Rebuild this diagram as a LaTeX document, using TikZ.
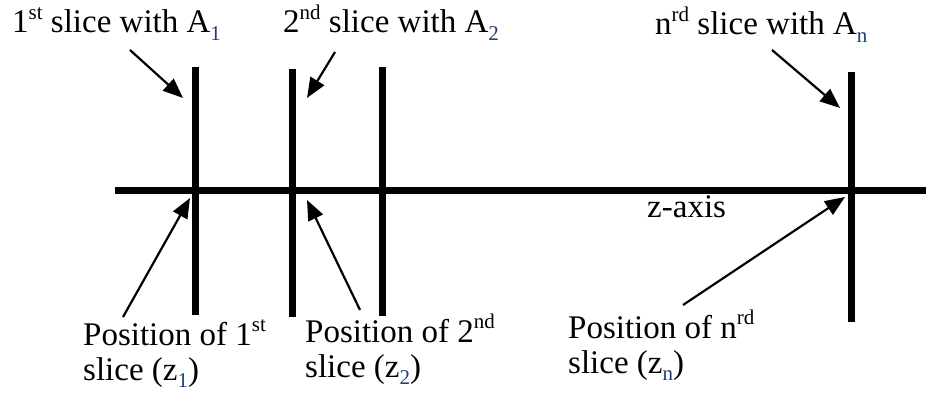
\documentclass[tikz,border=0pt]{standalone}
\usepackage{fontspec}
\setmainfont{Liberation Serif}
\usetikzlibrary{arrows.meta}
\definecolor{subcol}{RGB}{31,62,112}
\newcommand{\mysup}[1]{\raisebox{0.42em}{\fontsize{21}{21}\selectfont #1}}
\newcommand{\mysub}[1]{\raisebox{-0.22em}{\fontsize{21}{21}\selectfont\color{subcol}#1}}
\begin{document}
\begin{tikzpicture}[x=1pt,y=-1pt,
  lbl/.style={inner sep=0pt,anchor=base west,font=\fontsize{33}{35}\selectfont,align=left},
  bar/.style={line width=7pt},
  ptr/.style={line width=2.2pt,-{Triangle[length=20pt,width=16pt]}}]
\useasboundingbox (0,0) rectangle (926,393);
% axis
\coordinate (axL) at (115,190);
\coordinate (axR) at (926,190);
\draw[bar] (axL) -- (axR);
% slices
\coordinate (s1t) at (195,67); \coordinate (s1b) at (195,315);
\coordinate (s2t) at (292,69); \coordinate (s2b) at (292,317);
\coordinate (s3t) at (382,67); \coordinate (s3b) at (382,316);
\coordinate (snt) at (851,72); \coordinate (snb) at (851,322);
\draw[bar] (s1t) -- (s1b);
\draw[bar] (s2t) -- (s2b);
\draw[bar] (s3t) -- (s3b);
\draw[bar] (snt) -- (snb);
% labels
\node[lbl] (t1) at (12,33) {1\mysup{st} slice with A\mysub{1}};
\node[lbl] (t2) at (283,33) {2\mysup{nd} slice with A\mysub{2}};
\node[lbl] (tn) at (655,35) {n\mysup{rd} slice with A\mysub{n}};
\node[lbl] (zax) at (647,217) {z-axis};
\node[lbl] (b1) at (83,380) {Position of 1\mysup{st}\\[0pt]slice (z\mysub{1})};
\node[lbl] (b2) at (305,377) {Position of 2\mysup{nd}\\[0pt]slice (z\mysub{2})};
\node[lbl] (bn) at (568,373) {Position of n\mysup{rd}\\[0pt]slice (z\mysub{n})};
% arrows
\coordinate (a1s) at (130,50); \coordinate (a1e) at (183,98);
\coordinate (a2s) at (335,52); \coordinate (a2e) at (307,98);
\coordinate (ans) at (772,50); \coordinate (ane) at (840,108);
\coordinate (c1s) at (123,317); \coordinate (c1e) at (190,198);
\coordinate (c2s) at (360,310); \coordinate (c2e) at (307,200);
\coordinate (cns) at (683,305); \coordinate (cne) at (845,197);
\draw[ptr] (a1s) -- (a1e);
\draw[ptr] (a2s) -- (a2e);
\draw[ptr] (ans) -- (ane);
\draw[ptr] (c1s) -- (c1e);
\draw[ptr] (c2s) -- (c2e);
\draw[ptr] (cns) -- (cne);
\end{tikzpicture}
\end{document}
